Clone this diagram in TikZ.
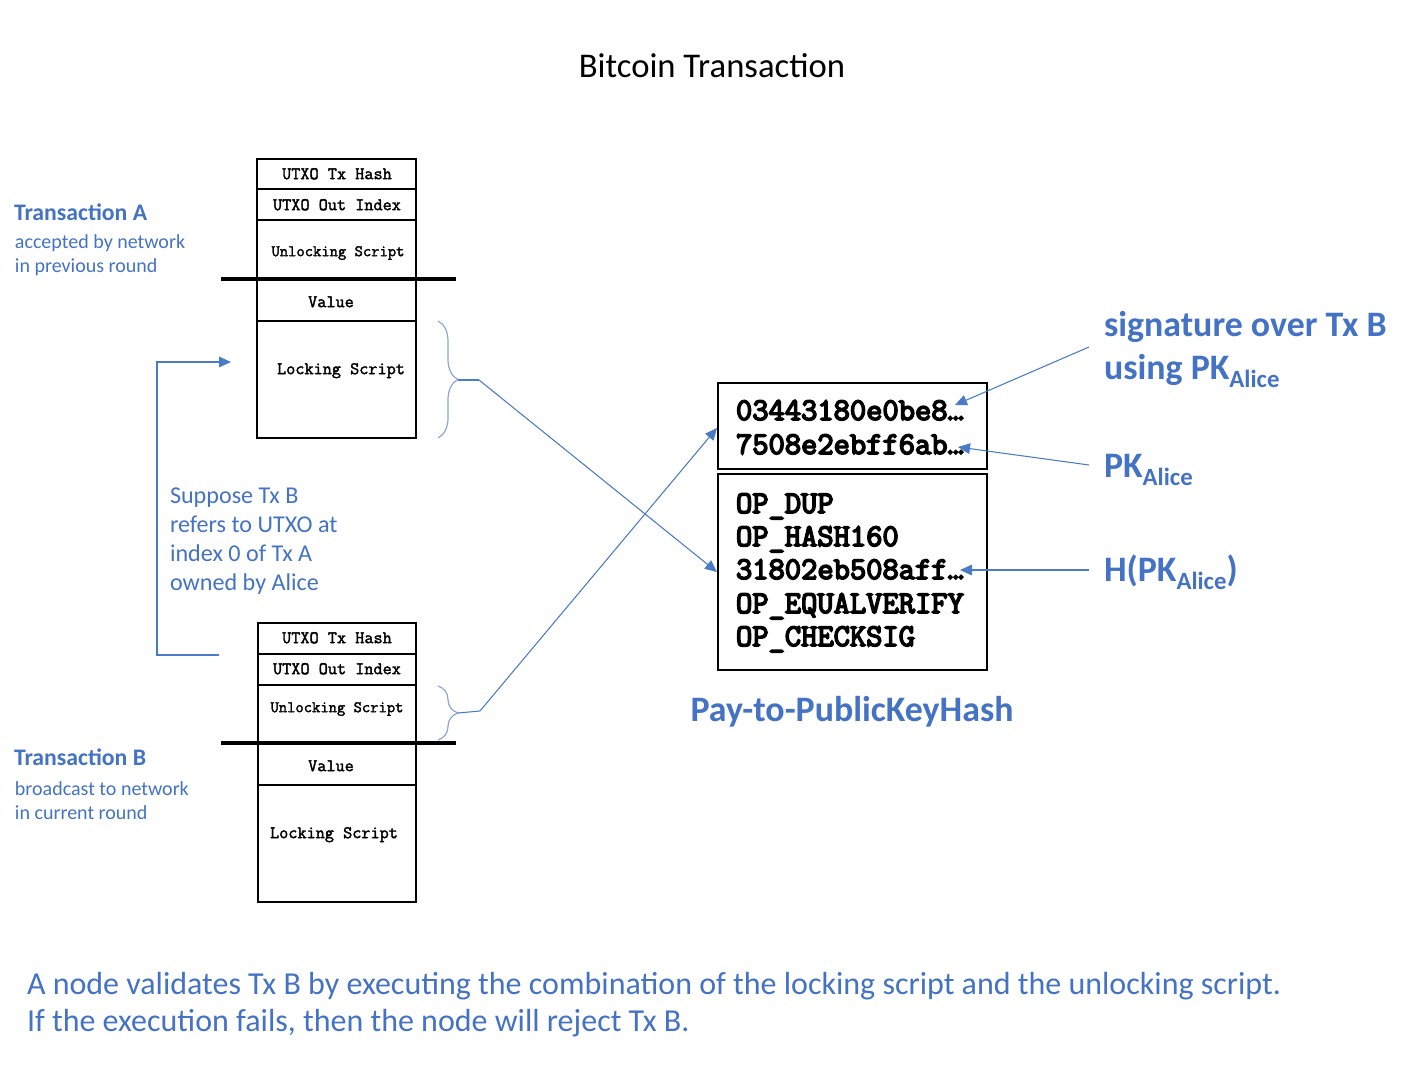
\documentclass[tikz,border=0pt]{standalone}
\usepackage{fontspec}
\setmainfont{Carlito}
\newfontfamily\monoMed{Latin Modern Mono}[FakeBold=2]
\newfontfamily\monoBold{Latin Modern Mono}[FakeBold=5]
\usetikzlibrary{arrows.meta,decorations.pathreplacing}
\definecolor{txtblue}{HTML}{4472C4}
\definecolor{lineblue}{HTML}{4A7BC6}
\definecolor{braceblue}{HTML}{8EA6CF}
\newcommand\cellf{\monoMed\fontsize{13.3pt}{15pt}\selectfont}
\newcommand\cellsf{\monoMed\fontsize{12.1pt}{14pt}\selectfont}
\newcommand\scrf{\monoBold\fontsize{23.7pt}{27pt}\selectfont}
\newcommand\titlef{\fontsize{26pt}{30pt}\selectfont}
\newcommand\lblBf{\bfseries\fontsize{17.8pt}{20pt}\selectfont}
\newcommand\lblRf{\fontsize{15pt}{18pt}\selectfont}
\newcommand\noteF{\fontsize{18.1pt}{21pt}\selectfont}
\newcommand\bigLbl{\bfseries\fontsize{26.9pt}{31pt}\selectfont}
\newcommand\payF{\bfseries\fontsize{26.9pt}{31pt}\selectfont}
\newcommand\botF{\fontsize{24pt}{28pt}\selectfont}
\newcommand\alice{\raisebox{-6pt}{\fontsize{18.6pt}{21pt}\selectfont Alice}}
\tikzset{
  txt/.style={inner sep=0pt, outer sep=0pt},
  bluetxt/.style={txt, text=txtblue},
  boxline/.style={line width=1.5pt, black},
  rowline/.style={line width=0.8pt, black},
  sepline/.style={line width=2.4pt, black},
  link/.style={draw=lineblue, line width=0.8pt},
  arr/.style={link, -{Triangle[length=9pt,width=8pt]}},
  bracestyle/.style={draw=braceblue, line width=0.9pt, decorate, decoration={brace, amplitude=15pt}}
}
\begin{document}
\begin{tikzpicture}[x=0.75pt,y=-0.75pt]
\useasboundingbox (0,0) rectangle (1422,1088);

% title
\node[txt, font=\titlef, anchor=base] (title) at (712,78) {Bitcoin Transaction};

% ---------- Transaction A box ----------
\draw[boxline] (257,159) rectangle (416,438);
\draw[rowline] (257,189) -- (416,189);
\draw[rowline] (257,220) -- (416,220);
\draw[rowline] (257,321) -- (416,321);
\draw[sepline] (221,279) -- (456,279);
\node[txt, font=\cellf, anchor=mid] (a1) at (337,176) {UTXO Tx Hash};
\node[txt, font=\cellf, anchor=mid] (a2) at (337,207) {UTXO Out Index};
\node[txt, font=\cellsf, anchor=mid] (a3) at (338,253) {Unlocking Script};
\node[txt, font=\cellf, anchor=mid] (a4) at (331,304) {Value};
\node[txt, font=\cellf, anchor=mid] (a5) at (341,371) {Locking Script};

% ---------- Transaction B box ----------
\draw[boxline] (258,623) rectangle (416,902);
\draw[rowline] (258,654) -- (416,654);
\draw[rowline] (258,685) -- (416,685);
\draw[rowline] (258,785) -- (416,785);
\draw[sepline] (221,743) -- (456,743);
\node[txt, font=\cellf, anchor=mid] (b1) at (337,640) {UTXO Tx Hash};
\node[txt, font=\cellf, anchor=mid] (b2) at (337,671) {UTXO Out Index};
\node[txt, font=\cellsf, anchor=mid] (b3) at (337,709) {Unlocking Script};
\node[txt, font=\cellf, anchor=mid] (b4) at (331,768) {Value};
\node[txt, font=\cellf, anchor=mid] (b5) at (334,835) {Locking Script};

% braces
\draw[bracestyle] (438,321) -- (438,438);
\draw[bracestyle] (438,686) -- (438,740);
\coordinate (tipA) at (458,380);
\coordinate (kneeA) at (479,380);
\coordinate (tipB) at (458,713);
\coordinate (kneeB) at (480,711);

% ---------- script boxes ----------
\draw[boxline] (718,383) rectangle (987,469);
\draw[boxline] (718,474) rectangle (987,670);
\coordinate (sigIn) at (717,428);
\coordinate (lockIn) at (717,572);
\node[txt, font=\scrf, anchor=base west] (s1) at (736,420) {03443180e0be8…};
\node[txt, font=\scrf, anchor=base west] (s2) at (736,454) {7508e2ebff6ab…};
\node[txt, font=\scrf, anchor=base west] (l1) at (736,513) {OP\_DUP};
\node[txt, font=\scrf, anchor=base west] (l2) at (736,546) {OP\_HASH160};
\node[txt, font=\scrf, anchor=base west] (l3) at (736,579) {31802eb508aff…};
\node[txt, font=\scrf, anchor=base west] (l4) at (736,613) {OP\_EQUALVERIFY};
\node[txt, font=\scrf, anchor=base west] (l5) at (736,646) {OP\_CHECKSIG};

\coordinate (sigEnd) at (955,405);
\coordinate (pkEnd) at (958,447);
\coordinate (hEnd) at (960,570);

% connectors from braces
\draw[link] (tipA) -- (kneeA);
\draw[arr] (kneeA) -- (lockIn);
\draw[link] (tipB) -- (kneeB);
\draw[arr] (kneeB) -- (sigIn);

% right labels
\node[bluetxt, font=\bigLbl, anchor=base west] (sig1) at (1104,336) {signature over Tx B};
\node[bluetxt, font=\bigLbl, anchor=base west] (sig2) at (1104,379) {using PK\alice};
\node[bluetxt, font=\bigLbl, anchor=base west] (pk) at (1104,477) {PK\alice};
\node[bluetxt, font=\bigLbl, anchor=base west] (hpk) at (1104,581) {H(PK\alice)};
\coordinate (sigStart) at (1089,347);
\coordinate (pkStart) at (1089,465);
\coordinate (hStart) at (1089,570);
\draw[arr] (sigStart) -- (sigEnd);
\draw[arr] (pkStart) -- (pkEnd);
\draw[arr] (hStart) -- (hEnd);

\node[bluetxt, font=\payF, anchor=base] (pay) at (852,721) {Pay-to-PublicKeyHash};

% left labels
\node[bluetxt, font=\lblBf, anchor=base west] (txA) at (14,220) {Transaction A};
\node[bluetxt, font=\lblRf, anchor=base west] (txA1) at (15,248) {accepted by network};
\node[bluetxt, font=\lblRf, anchor=base west] (txA2) at (15,272) {in previous round};
\node[bluetxt, font=\lblBf, anchor=base west] (txB) at (14,765) {Transaction B};
\node[bluetxt, font=\lblRf, anchor=base west] (txB1) at (15,795) {broadcast to network};
\node[bluetxt, font=\lblRf, anchor=base west] (txB2) at (15,819) {in current round};

\node[bluetxt, font=\noteF, anchor=base west] (n1) at (170,503) {Suppose Tx B};
\node[bluetxt, font=\noteF, anchor=base west] (n2) at (170,532) {refers to UTXO at};
\node[bluetxt, font=\noteF, anchor=base west] (n3) at (170,561) {index 0 of Tx A};
\node[bluetxt, font=\noteF, anchor=base west] (n4) at (170,590) {owned by Alice};

% bracket arrow
\coordinate (brS) at (219,655);
\coordinate (brC1) at (157,655);
\coordinate (brC2) at (157,362);
\coordinate (brE) at (231,362);
\draw[arr] (brS) -- (brC1) -- (brC2) -- (brE);

% bottom text
\node[bluetxt, font=\botF, anchor=base west] (bot1) at (27,994) {A node validates Tx B by executing the combination of the locking script and the unlocking script.};
\node[bluetxt, font=\botF, anchor=base west] (bot2) at (27,1031) {If the execution fails, then the node will reject Tx B.};
\end{tikzpicture}
\end{document}
